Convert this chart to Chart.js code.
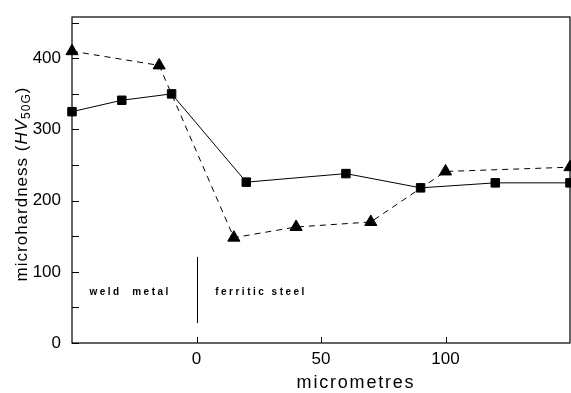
<!DOCTYPE html>
<html>
<head>
<meta charset="UTF-8">
<title>microhardness</title>
<script src="https://cdn.jsdelivr.net/npm/chart.js"></script>
<style>
html, body { margin: 0; padding: 0; background: #fff; }
#wrap { width: 571px; height: 393px; }
</style>
</head>
<body>
<div id="wrap"><canvas id="hvChart"></canvas></div>
<script>
// data
const squareX = [-50, -30, -10, 20, 60, 90, 120, 150];
const squareHV = [325, 341, 350, 226, 238, 218, 225, 225];
const triangleX = [-50, -15, 15, 40, 70, 100, 150];
const triangleHV = [410, 390, 148, 163, 170, 241, 247];
const xTicks = [0, 50, 100];
const yTicks = [0, 100, 200, 300, 400];
const yMinorTicks = [50, 150, 250, 350, 450];

const FONT = '"Liberation Sans", Arial, sans-serif';

function pairs(xs, ys) {
    return xs.map(function (x, i) { return { x: x, y: ys[i] }; });
}

// frame, inward ticks, region marker and labels, axis titles
const decorations = {
    id: 'decorations',
    afterDraw: function (chart) {
        const ctx = chart.ctx;
        const a = chart.chartArea;
        const xs = chart.scales.x;
        const ys = chart.scales.y;
        ctx.save();
        ctx.strokeStyle = '#000';
        ctx.lineWidth = 1.2;
        ctx.strokeRect(a.left, a.top, a.right - a.left, a.bottom - a.top);

        ctx.lineWidth = 1;
        ctx.beginPath();
        yTicks.concat(yMinorTicks).forEach(function (v) {
            const py = Math.round(ys.getPixelForValue(v)) + 0.5;
            ctx.moveTo(a.left, py);
            ctx.lineTo(a.left + 7, py);
        });
        xTicks.forEach(function (v) {
            const px = Math.round(xs.getPixelForValue(v)) + 0.5;
            ctx.moveTo(px, a.bottom);
            ctx.lineTo(px, a.bottom - 6);
        });
        ctx.stroke();

        // boundary between weld metal and ferritic steel
        ctx.beginPath();
        const bx = Math.round(xs.getPixelForValue(0)) + 0.5;
        ctx.moveTo(bx, ys.getPixelForValue(121));
        ctx.lineTo(bx, ys.getPixelForValue(28));
        ctx.stroke();

        ctx.fillStyle = '#000';
        ctx.font = 'bold 10px ' + FONT;
        ctx.letterSpacing = '2.5px';
        ctx.textBaseline = 'middle';
        ctx.textAlign = 'left';
        ctx.fillText('weld  metal', xs.getPixelForValue(-43), ys.getPixelForValue(72));
        ctx.fillText('ferritic steel', xs.getPixelForValue(7.5), ys.getPixelForValue(72));

        // x title
        ctx.font = '18px ' + FONT;
        ctx.letterSpacing = '1.8px';
        ctx.textAlign = 'center';
        ctx.fillText('micrometres', 356, 383);

        // y axis title with italic HV and subscript 50G
        ctx.textAlign = 'left';
        ctx.letterSpacing = '1px';
        ctx.translate(22, 184);
        ctx.rotate(-Math.PI / 2);
        const big = '17px ' + FONT;
        const ital = 'italic 17px ' + FONT;
        const small = '12px ' + FONT;
        const parts = [
            { t: 'microhardness (', f: big, dy: 0 },
            { t: 'HV', f: ital, dy: 0 },
            { t: '50G', f: small, dy: 5 },
            { t: ')', f: big, dy: 0 }
        ];
        let total = 0;
        parts.forEach(function (p) { ctx.font = p.f; p.w = ctx.measureText(p.t).width; total += p.w; });
        let cx = -total / 2;
        parts.forEach(function (p) {
            ctx.font = p.f;
            ctx.fillText(p.t, cx, p.dy);
            cx += p.w;
        });
        ctx.restore();
    }
};

new Chart(document.getElementById('hvChart'), {
    type: 'scatter',
    data: {
        datasets: [{
            label: 'squares',
            data: pairs(squareX, squareHV),
            showLine: true,
            borderColor: '#000',
            backgroundColor: '#000',
            borderWidth: 1,
            pointStyle: 'rect',
            pointRadius: 6,
            pointHoverRadius: 6,
            clip: 10
        }, {
            label: 'triangles',
            data: pairs(triangleX, triangleHV),
            showLine: true,
            borderColor: '#000',
            backgroundColor: '#000',
            borderWidth: 1,
            borderDash: [6, 5],
            pointStyle: 'triangle',
            pointRadius: 7,
            pointHoverRadius: 7,
            clip: 10
        }]
    },
    options: {
        responsive: true,
        maintainAspectRatio: false,
        animation: false,
        layout: { autoPadding: false, padding: { top: 17, right: 1, left: 0, bottom: 0 } },
        plugins: {
            legend: { display: false },
            tooltip: { enabled: false }
        },
        scales: {
            x: {
                type: 'linear',
                min: -50,
                max: 150,
                afterFit: function (s) { s.height = 50; s.paddingLeft = 0; s.paddingRight = 0; },
                afterBuildTicks: function (s) { s.ticks = xTicks.map(function (v) { return { value: v }; }); },
                grid: { display: false, drawTicks: false },
                border: { display: false },
                ticks: { color: '#000', font: { family: FONT, size: 17 }, padding: 6 }
            },
            y: {
                type: 'linear',
                min: 0,
                max: 458,
                afterFit: function (s) { s.width = 72; s.paddingTop = 0; s.paddingBottom = 0; },
                afterBuildTicks: function (s) { s.ticks = yTicks.map(function (v) { return { value: v }; }); },
                grid: { display: false, drawTicks: false },
                border: { display: false },
                ticks: { color: '#000', font: { family: FONT, size: 17 }, padding: 11 }
            }
        }
    },
    plugins: [decorations]
});
</script>
</body>
</html>
